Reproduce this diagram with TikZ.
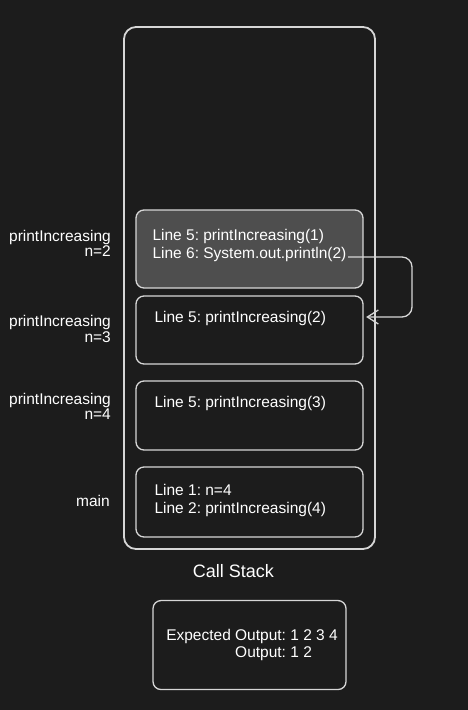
\documentclass[tikz,border=0pt]{standalone}
\usepackage{fontspec}
\setmainfont{Liberation Sans}
\usetikzlibrary{positioning, arrows.meta}
\definecolor{canvas}{HTML}{1C1C1C}
\definecolor{framegray}{HTML}{D6D6D6}
\definecolor{activegray}{HTML}{4E4E4E}
\frenchspacing

\begin{document}
\begin{tikzpicture}[
    x=1pt, y=-1pt,
    every node/.style={text=white, inner sep=0pt, font=\fontsize{15.5}{18}\selectfont},
    stackbox/.style={draw=framegray, line width=1.8pt, rounded corners=12pt},
    stackframe/.style={draw=framegray, line width=1.3pt, rounded corners=8pt, minimum width=227pt},
    linetext/.style={align=left},
    framename/.style={align=right, anchor=north east, font=\fontsize{15.5}{15.5}\selectfont},
    flow/.style={draw=framegray, line width=1.3pt, rounded corners=10pt, -{Straight Barb[length=11pt, width=14pt]}}
]
    \fill[canvas] (0,0) rectangle (468,710);

    % Call stack and its frames
    \node[stackbox, minimum width=251pt, minimum height=522pt] (stack) at (249.5,288) {};
    \node[stackframe, fill=activegray, minimum height=78pt] (f2) at (249.5,249) {};
    \node[stackframe, minimum height=68pt, below=6.7pt of f2] (f3) {};
    \node[stackframe, minimum height=69pt, below=15.7pt of f3] (f4) {};
    \node[stackframe, minimum height=70pt, below=15.7pt of f4] (fmain) {};

    \node[linetext, below right=19.5pt and 17pt of f2.north west] (f2code) {Line 5: printIncreasing(1)\\Line 6: System.out.println(2)};
    \node[linetext, below right=16pt and 19pt of f3.north west] (f3code) {Line 5: printIncreasing(2)};
    \node[linetext, below right=16pt and 19pt of f4.north west] (f4code) {Line 5: printIncreasing(3)};
    \node[linetext, below right=17.5pt and 19pt of fmain.north west] (fmaincode) {Line 1: n=4\\Line 2: printIncreasing(4)};

    % Labels
    \node[framename] (n2) at (111,230) {printIncreasing\\n=2};
    \node[framename] (n3) at (111,315.5) {printIncreasing\\n=3};
    \node[framename] (n4) at (111,393) {printIncreasing\\n=4};
    \node[anchor=base east] (nmain) at (110,506) {main};
    \node[below=14pt of stack, xshift=-16pt, font=\fontsize{18}{18}\selectfont] (title) {Call Stack};

    % Output
    \node[stackframe, minimum width=193pt, minimum height=89pt, below=50pt of stack] (output) {};
    \node[linetext, xshift=2.5pt, font=\fontsize{15.5}{17}\selectfont] (outtext) at (output) {Expected Output: 1 2 3 4\\\phantom{Expected }Output: 1 2};

    % Return to caller
    \coordinate (ret) at (348,257);
    \draw[flow] (ret) -- ++(64,0) |- ([xshift=2.5pt, yshift=13pt]f3.east);
\end{tikzpicture}
\end{document}
